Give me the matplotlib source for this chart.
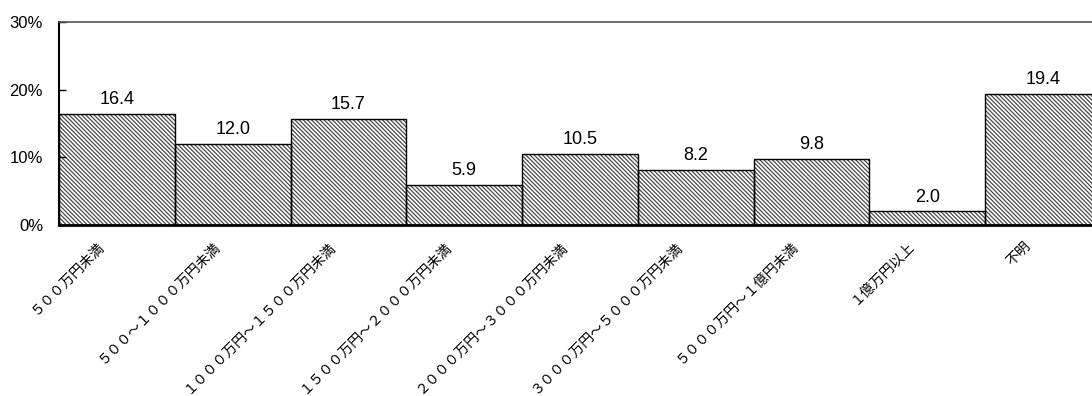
import matplotlib
matplotlib.use("Agg")
import matplotlib.pyplot as plt
import matplotlib.transforms as mtransforms
from matplotlib.ticker import FuncFormatter

categories = ["５００万円未満", "５００～１０００万円未満", "１０００万円～１５００万円未満",
              "１５００万円～２０００万円未満", "２０００万円～３０００万円未満",
              "３０００万円～５０００万円未満", "５０００万円～１億円未満", "１億万円以上", "不明"]
values = [16.4, 12.0, 15.7, 5.9, 10.5, 8.2, 9.8, 2.0, 19.4]
yticks = [0, 10, 20, 30]

plt.rcParams['hatch.linewidth'] = 0.9

fig = plt.figure(figsize=(10.92, 3.96), dpi=100)
W, H = 1092, 396
ax = fig.add_axes([59 / W, (H - 225) / H, (1101 - 59) / W, (225 - 22) / H])

x = list(range(len(values)))
ax.bar(x, values, width=1.0, color='white', edgecolor='#4a4a4a', hatch='\\' * 8, linewidth=0)
ax.bar(x, values, width=1.0, fill=False, edgecolor='black', linewidth=1.0)

for xi, v in zip(x, values):
    ax.annotate(f"{v:.1f}", (xi, v), xytext=(0, 7), textcoords='offset points',
                ha='center', va='baseline', fontsize=13, family='Liberation Sans')

ax.set_xlim(-0.5, len(values) - 0.5)
ax.set_ylim(0, 30)
ax.set_yticks(yticks)
ax.yaxis.set_major_formatter(FuncFormatter(lambda v, p: f"{int(v)}%"))
ax.tick_params(axis='y', direction='in', length=5, width=1, pad=11.5, labelsize=12)
for lab in ax.get_yticklabels():
    lab.set_family('Liberation Sans')

ax.set_xticks(x)
ax.set_xticklabels(categories, rotation=45, ha='right', rotation_mode='anchor',
                   fontsize=10, family=['Noto Sans CJK JP', 'DejaVu Sans'])
ax.tick_params(axis='x', length=0, pad=10)
offset = mtransforms.ScaledTranslation(-20 / 100, 0, fig.dpi_scale_trans)
for lab in ax.get_xticklabels():
    lab.set_transform(lab.get_transform() + offset)

ax.spines['left'].set_linewidth(1.5)
ax.spines['left'].set_color('black')
ax.spines['bottom'].set_linewidth(2)
ax.spines['bottom'].set_color('black')
ax.spines['top'].set_linewidth(1.2)
ax.spines['top'].set_color('#555555')
ax.spines['right'].set_visible(False)

fig.savefig("out.png", dpi=100)
